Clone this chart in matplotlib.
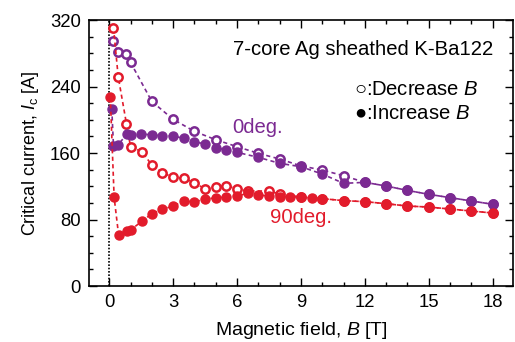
import matplotlib
matplotlib.use("Agg")
import matplotlib.pyplot as plt
from matplotlib.ticker import MultipleLocator

plt.rcParams['font.family'] = ['Liberation Sans', 'DejaVu Sans']
plt.rcParams['mathtext.fontset'] = 'custom'
plt.rcParams['mathtext.it'] = 'Liberation Sans:italic'
plt.rcParams['mathtext.rm'] = 'Liberation Sans'

# 0 deg, decreasing field (open)
b0_dec = [0.17, 0.41, 0.8, 1.0, 2.0, 3.0, 4.0, 5.0, 6.0, 7.0, 8.0, 9.0, 10.0, 11.0,
          12.0, 13.0, 14.0, 15.0, 16.0, 17.0, 18.0]
ic0_dec = [295, 282, 279, 269, 222, 200.5, 186, 176, 167.6, 159.6, 152.8, 144.5, 139.5, 132.7,
           124.7, 120.3, 115, 110.3, 106.3, 102.3, 98.3]
# 0 deg, increasing field (filled)
b0_inc = [0.12, 0.2, 0.4, 0.83, 1.0, 1.5, 2.0, 2.5, 3.0, 3.5, 4.0, 4.5, 5.0, 5.5, 6.0,
          7.0, 8.0, 9.0, 10.0, 11.0, 12.0, 13.0, 14.0, 15.0, 16.0, 17.0, 18.0]
ic0_inc = [213, 168.4, 169.6, 182.5, 182, 183.2, 181.6, 180.9, 180.5, 177.6, 173.6, 170.8, 166.4, 163.6, 160.8,
           154.8, 147.6, 143.5, 134.7, 123.5, 124.7, 120.3, 115, 110.3, 106.3, 102.3, 98.3]
# 90 deg, decreasing field (open)
b90_dec = [0.2, 0.42, 0.81, 1.0, 1.53, 2.0, 2.5, 3.0, 3.5, 4.0, 4.5, 5.0, 5.5, 6.0, 6.5, 7.5, 8.0,
           9.0, 10.0, 11.0, 12.0, 13.0, 14.0, 15.0, 16.0, 17.0, 18.0]
ic90_dec = [310.8, 252, 195, 167.6, 161.6, 145.6, 136.3, 130.7, 129.5, 124.3, 116.7, 119.5, 120.7, 116.7, 114.3, 114.3, 110.7,
            107.1, 105.1, 102.7, 101.5, 99, 96.2, 95, 92.6, 90.2, 87.8]
# 90 deg, increasing field (filled)
b90_inc = [0.05, 0.23, 0.44, 0.83, 1.0, 1.53, 2.0, 2.5, 3.0, 3.5, 4.0, 4.5, 5.0, 5.5, 6.0, 6.5, 7.0, 7.5,
           8.0, 8.5, 9.0, 9.5, 10.0, 11.0, 12.0, 13.0, 14.0, 15.0, 16.0, 17.0, 18.0]
ic90_inc = [227.7, 106.7, 61.4, 66.2, 67.4, 77.8, 87, 92.3, 96.2, 102.3, 101, 104.7, 105.9, 107.1, 108.3, 111.5, 109.5, 108.3,
            107.5, 107.1, 107.1, 105.9, 105.1, 102.7, 101.5, 99, 96.2, 95, 92.6, 90.2, 87.8]

PURPLE = '#7B2A92'
RED = '#E21B2B'

fig = plt.figure(figsize=(5.15, 3.42), dpi=100)
ax = fig.add_axes([0.1728, 0.1637, 0.8232, 0.7778])

ax.axvline(0, color='black', linestyle=(0, (1, 1)), lw=1.2, zorder=1)

dash = (0, (2.5, 2))
ax.plot(b0_dec, ic0_dec, linestyle=dash, color=PURPLE, lw=1.2, marker='o', ms=6,
        mfc='white', mec=PURPLE, mew=1.8, zorder=3)
ax.plot(b0_inc, ic0_inc, linestyle=dash, color=PURPLE, lw=1.2, marker='o', ms=6.5,
        mfc=PURPLE, mec=PURPLE, zorder=4)
ax.plot(b90_dec, ic90_dec, linestyle=dash, color=RED, lw=1.2, marker='o', ms=6,
        mfc='white', mec=RED, mew=1.8, zorder=3)
ax.plot(b90_inc, ic90_inc, linestyle=dash, color=RED, lw=1.2, marker='o', ms=6.5,
        mfc=RED, mec=RED, zorder=4)

ax.set_xlim(-0.95, 18.95)
ax.set_ylim(0, 320)
ax.xaxis.set_major_locator(MultipleLocator(3))
ax.xaxis.set_minor_locator(MultipleLocator(1))
ax.yaxis.set_major_locator(MultipleLocator(80))
ax.yaxis.set_minor_locator(MultipleLocator(20))
ax.tick_params(which='both', direction='in', top=True, right=True, labelsize=13.3, width=1)
ax.tick_params(which='major', length=6, pad=6)
ax.tick_params(which='minor', length=3)
for s in ax.spines.values():
    s.set_linewidth(1.2)

ax.set_xlabel('Magnetic field, $\\mathit{B}$ [T]', fontsize=14, labelpad=6)
ax.set_ylabel('Critical current, $\\mathit{I}_{\\rm c}$ [A]', fontsize=13, labelpad=6)

fs = 14.6
ax.text(0.953, 0.89, '7-core Ag sheathed K-Ba122', transform=ax.transAxes,
        ha='right', va='center', fontsize=fs)
ax.text(0.625, 0.737, '\u25cb:Decrease $\\mathit{B}$', transform=ax.transAxes,
        ha='left', va='center', fontsize=fs)
ax.text(0.625, 0.650, '\u25cf:Increase $\\mathit{B}$', transform=ax.transAxes,
        ha='left', va='center', fontsize=fs)
ax.text(5.77, 191, '0deg.', color=PURPLE, fontsize=fs, ha='left', va='center')
ax.text(7.55, 82, '90deg.', color=RED, fontsize=fs, ha='left', va='center')

fig.savefig('out.png', dpi=100)
